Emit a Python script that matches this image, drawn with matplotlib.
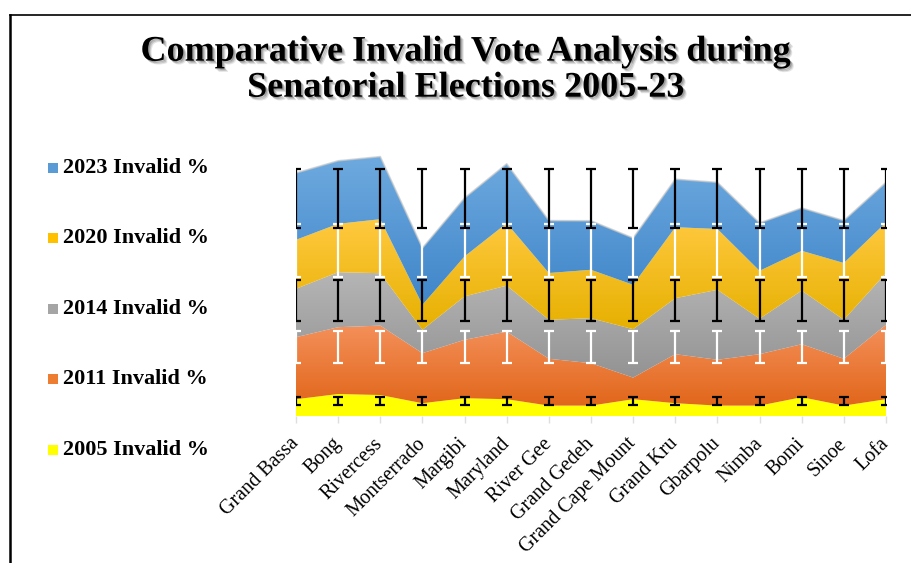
import numpy as np
import matplotlib
matplotlib.use("Agg")
import matplotlib.pyplot as plt
import matplotlib.patheffects as pe
from matplotlib.colors import LinearSegmentedColormap
from matplotlib.patches import Rectangle
from matplotlib.lines import Line2D

counties = ["Grand Bassa", "Bong", "Rivercess", "Montserrado", "Margibi", "Maryland",
            "River Gee", "Grand Gedeh", "Grand Cape Mount", "Grand Kru", "Gbarpolu",
            "Nimba", "Bomi", "Sinoe", "Lofa"]

inv_2005 = [0.84, 1.10, 1.05, 0.64, 0.89, 0.84, 0.52, 0.52, 0.84, 0.64, 0.52, 0.52, 0.94, 0.52, 0.84]
inv_2011 = [3.10, 3.34, 3.47, 2.50, 2.92, 3.38, 2.34, 2.12, 1.08, 2.45, 2.29, 2.57, 2.65, 2.34, 3.72]
inv_2014 = [2.42, 2.75, 2.62, 1.17, 2.17, 2.30, 1.95, 2.25, 2.42, 2.80, 3.50, 1.77, 2.68, 1.95, 2.59]
inv_2020 = [2.45, 2.42, 2.70, 1.25, 2.00, 3.12, 2.34, 2.42, 2.22, 3.55, 3.04, 2.40, 1.99, 2.84, 2.53]
inv_2023 = [3.34, 3.15, 3.13, 2.84, 2.92, 2.97, 2.62, 2.45, 2.34, 2.40, 2.33, 2.39, 2.14, 2.12, 2.00]

series_names = ["2005 Invalid %", "2011 Invalid %", "2014 Invalid %", "2020 Invalid %", "2023 Invalid %"]
series_vals = [inv_2005, inv_2011, inv_2014, inv_2020, inv_2023]
base_colors = ["#ffff00", "#ed7d31", "#a5a5a5", "#ffc000", "#5b9bd5"]
grad_top = ["#ffff00", "#f4905a", "#b5b5b5", "#ffc940", "#6eaadf"]
grad_bot = ["#ffff00", "#e1661a", "#939393", "#e6b000", "#3f85c9"]
err_colors = ["black", "white", "black", "white", "black"]

W, H = 911, 563
fig = plt.figure(figsize=(W / 100, H / 100), dpi=100)
fig.patch.set_facecolor("white")

ax_l, ax_r, ax_b, ax_t = 296, 886, 416, 130
ax = fig.add_axes([ax_l / W, 1 - ax_b / H, (ax_r - ax_l) / W, (ax_b - ax_t) / H])

x = np.arange(len(counties))
cum = np.cumsum(np.array(series_vals, dtype=float), axis=0)
lower_all = np.vstack([np.zeros(len(x)), cum[:-1]])

for i in range(len(series_vals)):
    lo, hi = lower_all[i], cum[i]
    poly = ax.fill_between(x, lo, hi, facecolor="none", edgecolor="none", zorder=2)
    cmap = LinearSegmentedColormap.from_list("g%d" % i, [grad_bot[i], grad_top[i]])
    grad = np.linspace(0, 1, 256).reshape(-1, 1)
    im = ax.imshow(grad, extent=[x[0], x[-1], lo.min(), hi.max()], origin="lower",
                   cmap=cmap, aspect="auto", zorder=2, interpolation="bicubic")
    im.set_clip_path(poly.get_paths()[0], transform=ax.transData)
    if i == len(series_vals) - 1:
        ax.plot(x, hi, color="#c8c8c8", lw=1.2, alpha=0.7, zorder=2.5)

# Excel-style standard deviation error bars (centered on the series mean)
for i in range(len(series_vals)):
    center = np.full(len(x), cum[i].mean())
    sd = np.full(len(x), cum[i].std(ddof=1))
    ax.errorbar(x, center, yerr=sd, fmt="none", ecolor=err_colors[i],
                elinewidth=1.6, capsize=3.6, capthick=1.6, zorder=5)

ax.set_xlim(x[0], x[-1])
ax.set_ylim(0, 14.3)
for s in ax.spines.values():
    s.set_visible(False)
ax.set_yticks([])
ax.set_xticks(x)
ax.set_xticklabels(counties, rotation=45, ha="right", va="center",
                   rotation_mode="anchor", fontfamily="Liberation Serif", fontsize=14.5)
ax.tick_params(axis="x", length=5, color="#dedede", width=1, pad=13)
ax.set_facecolor("none")

# Title with soft shadow
shadow = [pe.SimplePatchShadow(offset=(2.5, -2.5), alpha=0.10, shadow_rgbFace="black"),
          pe.SimplePatchShadow(offset=(1.8, -1.8), alpha=0.15, shadow_rgbFace="black"),
          pe.SimplePatchShadow(offset=(1.0, -1.0), alpha=0.2, shadow_rgbFace="black"),
          pe.Normal()]
fig.text(466 / W, 1 - 60.7 / H, "Comparative Invalid Vote Analysis during", ha="center",
         va="baseline", fontfamily="Liberation Serif", fontweight="bold", fontsize=26,
         path_effects=shadow)
fig.text(466 / W, 1 - 96.7 / H, "Senatorial Elections 2005-23", ha="center",
         va="baseline", fontfamily="Liberation Serif", fontweight="bold", fontsize=26,
         path_effects=shadow)

# Legend (top to bottom: 2023 ... 2005)
leg_y = [168, 238, 309, 379, 450]
for k, i in enumerate(range(len(series_names) - 1, -1, -1)):
    yc = leg_y[k]
    fig.patches.append(Rectangle((48 / W, 1 - (yc + 5) / H), 10 / W, 10 / H,
                                 transform=fig.transFigure, facecolor=base_colors[i],
                                 edgecolor="none"))
    fig.text(63 / W, 1 - yc / H, series_names[i], ha="left", va="center",
             fontfamily="Liberation Serif", fontweight="bold", fontsize=16)

# Border lines
fig.add_artist(Line2D([10 / W, 10 / W], [0, 1 - 15 / H], transform=fig.transFigure,
                      color="black", lw=1.8))
fig.add_artist(Line2D([10 / W, 1], [1 - 15 / H, 1 - 15 / H], transform=fig.transFigure,
                      color="black", lw=1.2))

fig.savefig("out.png", dpi=100)
